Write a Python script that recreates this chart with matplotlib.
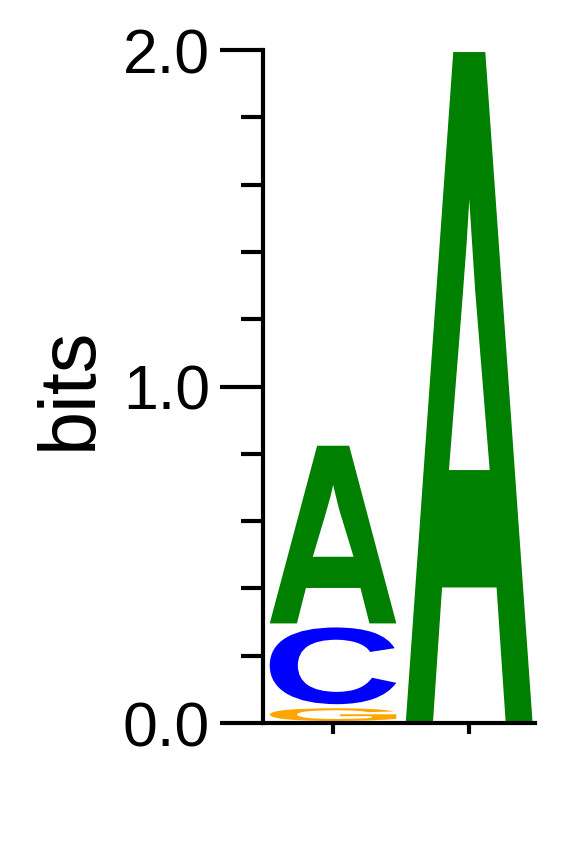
#!/usr/bin/env python3
"""
Sequence logo: two positions, information content in bits.
"""

import matplotlib

matplotlib.use("Agg")
import matplotlib.pyplot as plt
import numpy as np
from matplotlib.font_manager import FontProperties
from matplotlib.patches import PathPatch
from matplotlib.path import Path
from matplotlib.textpath import TextPath
from matplotlib.ticker import MultipleLocator
from matplotlib.transforms import Affine2D


POSITIONS = [1, 2]
# letters per position, stacked bottom to top, heights in bits
STACK_LETTERS = [["G", "C", "A"], ["A"]]
STACK_HEIGHTS = [[0.05, 0.24, 0.54], [2.0]]
LETTER_COLORS = {"A": "#008000", "C": "#0000ff", "G": "#ffa500", "T": "#ff0000"}
Y_TICKS = [0.0, 1.0, 2.0]
Y_TICK_LABELS = ["0.0", "1.0", "2.0"]
Y_LABEL = "bits"

LETTER_WIDTH = 0.93
LETTER_PAD = 0.006
GLYPH_FONT = FontProperties(family="Liberation Sans", weight="bold")

# Helvetica-style A: crossbar and counter apex sit lower than in Liberation Sans Bold
A_Y_FROM = [0.0, 0.256, 0.413, 0.846, 1.0]
A_Y_TO = [0.0, 0.2, 0.375, 0.78, 1.0]
A_LEG_SLOPE = 0.355

plt.rcParams["font.family"] = ["Liberation Sans", "DejaVu Sans"]


def unit_glyph(letter):
    tp = TextPath((0, 0), letter, size=1, prop=GLYPH_FONT)
    ext = tp.get_extents()
    verts = (tp.vertices - [ext.x0, ext.y0]) / [ext.width, ext.height]
    if letter == "A":
        y_old = verts[:, 1].copy()
        y_new = np.interp(y_old, A_Y_FROM, A_Y_TO)
        # crossbar corners slide along the leg edges; apex just drops
        bar = (y_old > 0.1) & (y_old < 0.5)
        side = np.sign(0.5 - verts[:, 0])
        verts[bar, 0] += A_LEG_SLOPE * (y_new[bar] - y_old[bar]) * side[bar]
        verts[:, 1] = y_new
    return Path(verts, tp.codes)


def draw_letter(ax, letter, x_center, bottom, height, color):
    tr = (
        Affine2D()
        .scale(LETTER_WIDTH, height)
        .translate(x_center - LETTER_WIDTH / 2, bottom)
    )
    ax.add_patch(
        PathPatch(tr.transform_path(unit_glyph(letter)), facecolor=color,
                  edgecolor="none", clip_on=False)
    )


def main() -> None:
    fig = plt.figure(figsize=(5.83, 8.42), dpi=100)
    ax = fig.add_axes([0.451, 0.1413, 0.467, 0.7993])

    for pos, letters, heights in zip(POSITIONS, STACK_LETTERS, STACK_HEIGHTS):
        bottom = 0.0
        for letter, h in zip(letters, heights):
            draw_letter(
                ax, letter, pos, bottom + LETTER_PAD, h - 2 * LETTER_PAD, LETTER_COLORS[letter]
            )
            bottom += h

    ax.set_xlim(0.485, 2.485)
    ax.set_ylim(0, 2.0)
    ax.set_xticks(POSITIONS)
    ax.set_xticklabels([])
    ax.set_yticks(Y_TICKS)
    ax.set_yticklabels(Y_TICK_LABELS, fontsize=45)
    ax.yaxis.set_minor_locator(MultipleLocator(0.2))

    for side in ("top", "right"):
        ax.spines[side].set_visible(False)
    for side in ("left", "bottom"):
        ax.spines[side].set_linewidth(3)

    ax.tick_params(axis="y", which="major", length=31, width=3, pad=7)
    ax.tick_params(axis="y", which="minor", length=16, width=3)
    ax.tick_params(axis="x", which="major", length=8, width=3, direction="out")

    fig.text(70 / 583, 1 - 388 / 842, Y_LABEL, rotation=90, ha="center", va="center", fontsize=57)

    fig.savefig("out.png", dpi=100)
    plt.close(fig)


if __name__ == "__main__":
    main()
